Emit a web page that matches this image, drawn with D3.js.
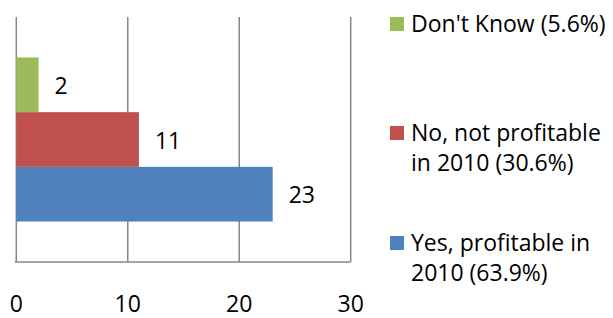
<!DOCTYPE html>
<html>
<head>
<meta charset="utf-8">
<script src="https://cdn.jsdelivr.net/npm/d3@7"></script>
<style>
  body { margin: 0; background: #fff; }
  svg text { font-family: "Open Sans", sans-serif; fill: #000; }
</style>
</head>
<body>
<div id="chart"></div>
<script>
// series drawn bottom to top, like the spreadsheet did it
const seriesNames = ["Yes, profitable in 2010 (63.9%)", "No, not profitable in 2010 (30.6%)", "Don't Know (5.6%)"];
const legendLines = [["Yes, profitable in", "2010 (63.9%)"], ["No, not profitable", "in 2010 (30.6%)"], ["Don't Know (5.6%)"]];
const seriesValues = [23, 11, 2];
const seriesColors = ["#4F81BD", "#C0504D", "#9BBB59"];
const xTicks = [0, 10, 20, 30];

const width = 613, height = 318;
const plot = { left: 16.3, right: 350.7, top: 17, bottom: 262 };

const svg = d3.select("#chart")
  .append("svg")
  .attr("width", width)
  .attr("height", height);

const x = d3.scaleLinear()
  .domain([0, 30])
  .range([plot.left, plot.right]);

// top of the band is the last series
const y = d3.scaleBand()
  .domain(seriesNames.slice().reverse())
  .range([plot.top, plot.bottom])
  .paddingInner(0)
  .paddingOuter(0.74);

// gridlines
svg.append("g")
  .selectAll("line")
  .data(xTicks)
  .join("line")
  .attr("x1", d => x(d))
  .attr("x2", d => x(d))
  .attr("y1", plot.top)
  .attr("y2", plot.bottom)
  .attr("stroke", "#868686")
  .attr("stroke-width", 1.5);

// bottom axis line
svg.append("line")
  .attr("x1", plot.left - 1.5)
  .attr("x2", plot.right)
  .attr("y1", plot.bottom)
  .attr("y2", plot.bottom)
  .attr("stroke", "#868686")
  .attr("stroke-width", 1.5);

// tick labels
svg.append("g")
  .selectAll("text")
  .data(xTicks)
  .join("text")
  .attr("x", d => x(d))
  .attr("y", 312)
  .attr("text-anchor", "middle")
  .style("font-size", "23px")
  .text(d => d);

// bars
svg.append("g")
  .selectAll("rect")
  .data(seriesNames)
  .join("rect")
  .attr("x", x(0))
  .attr("y", d => y(d))
  .attr("width", (d, i) => x(seriesValues[i]) - x(0))
  .attr("height", y.bandwidth())
  .attr("fill", (d, i) => seriesColors[i]);

// value labels
svg.append("g")
  .selectAll("text")
  .data(seriesNames)
  .join("text")
  .attr("x", (d, i) => x(seriesValues[i]) + 16)
  .attr("y", d => y(d) + y.bandwidth() / 2 + 9)
  .style("font-size", "23px")
  .text((d, i) => seriesValues[i]);

// legend, top entry first
const legendTops = [236, 126, 17];
const legend = svg.append("g")
  .selectAll("g")
  .data(seriesNames)
  .join("g")
  .attr("transform", (d, i) => `translate(390,${legendTops[i]})`);

legend.append("rect")
  .attr("width", 14)
  .attr("height", 14)
  .attr("fill", (d, i) => seriesColors[i]);

legend.append("text")
  .attr("x", 21)
  .attr("y", 14.5)
  .style("font-size", "23px")
  .selectAll("tspan")
  .data((d, i) => legendLines[i])
  .join("tspan")
  .attr("x", 21)
  .attr("dy", (d, j) => j === 0 ? 0 : 30)
  .text(d => d);
</script>
</body>
</html>
